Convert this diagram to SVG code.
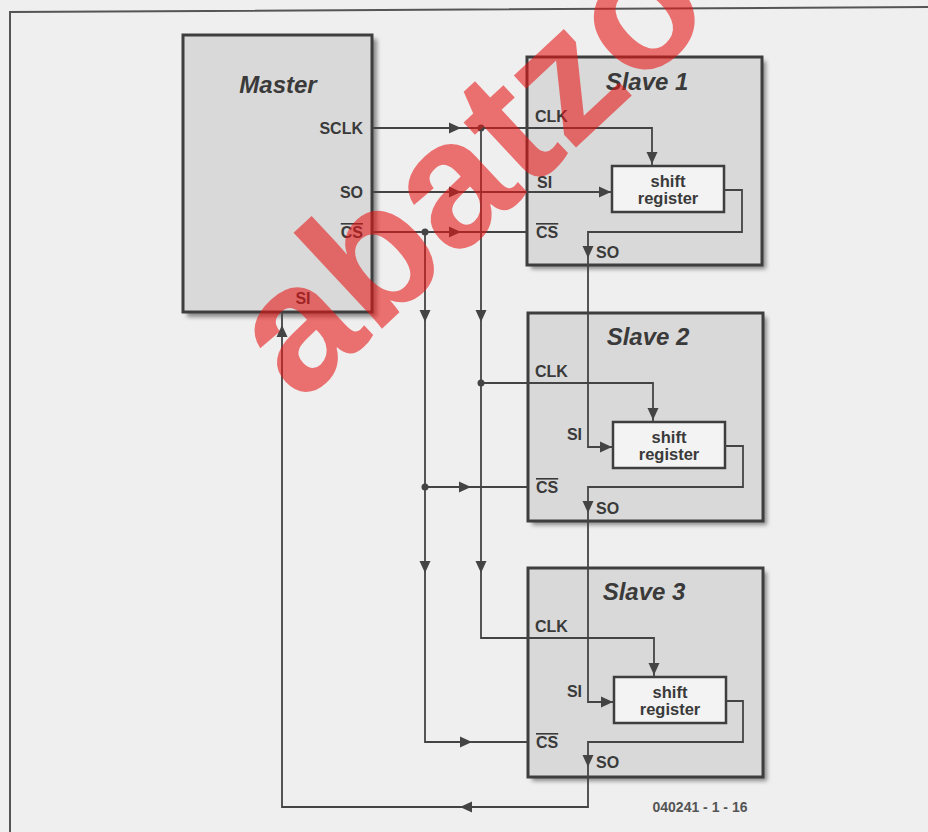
<svg xmlns="http://www.w3.org/2000/svg" xmlns:xlink="http://www.w3.org/1999/xlink" width="928" height="832" viewBox="0 0 928 832">
<defs>
<style>
.bg{fill:#efefef}
.frame{fill:none;stroke:#555;stroke-width:2}
.box{fill:#d9d9d9;stroke:#3e3e3e;stroke-width:3}
.shadow{fill:#8a8a8a;filter:url(#blur)}
.sr{fill:#f3f3f3;stroke:#3e3e3e;stroke-width:2.5}
.wire{fill:none;stroke:#444;stroke-width:1.8}
.dot{fill:#444}
.ah{fill:#444}
.title{font-family:"Liberation Sans",Arial,sans-serif;font-weight:bold;font-style:italic;font-size:24px;fill:#3a3a3a;text-anchor:middle}
.lbl{font-family:"Liberation Sans",Arial,sans-serif;font-weight:bold;font-size:16px;fill:#3a3a3a}
.end{text-anchor:end}
.mid{text-anchor:middle}
.ol{text-decoration:overline}
.srt{font-family:"Liberation Sans",Arial,sans-serif;font-weight:bold;font-size:16.5px;fill:#3a3a3a;text-anchor:middle}
.foot{font-family:"Liberation Sans",Arial,sans-serif;font-weight:bold;font-size:14px;fill:#555;text-anchor:middle}
.wm{font-family:"Liberation Sans",Arial,sans-serif;font-weight:bold;font-size:180px;fill:#e81515;opacity:0.58}
</style>
<filter id="blur" x="-10%" y="-10%" width="120%" height="120%"><feGaussianBlur stdDeviation="2"/></filter>
<path id="ar" d="M0,0 L-12,-5.5 L-12,5.5 Z"/>
</defs>
<rect class="bg" x="0" y="0" width="928" height="832"/>
<path class="frame" d="M10,832 V12 L928,7"/>

<g id="master">
<rect class="shadow" x="187" y="39" width="190" height="278"/>
<rect class="box" x="183" y="35" width="189" height="277"/>
<text class="title" x="278" y="93">Master</text>
<text class="lbl end" x="363" y="134">SCLK</text>
<text class="lbl end" x="363" y="198">SO</text>
<text class="lbl end ol" x="363" y="238">CS</text>
<text class="lbl mid" x="303" y="304">SI</text>
</g>

<g id="slave1">
<rect class="shadow" x="531" y="61" width="235" height="208"/>
<rect class="box" x="527" y="57" width="235" height="208"/>
<text class="title" x="647" y="90">Slave 1</text>
<text class="lbl" x="535" y="122">CLK</text>
<text class="lbl" x="537" y="188">SI</text>
<text class="lbl ol" x="536" y="238">CS</text>
<text class="lbl" x="596" y="258">SO</text>
</g>
<g id="sr1">
<rect class="sr" x="612" y="166" width="112" height="46"/>
<text class="srt" x="668" y="187">shift</text>
<text class="srt" x="668" y="204">register</text>
</g>

<g id="slave2">
<rect class="shadow" x="532" y="317" width="235" height="208"/>
<rect class="box" x="528" y="313" width="235" height="208"/>
<text class="title" x="648" y="345">Slave 2</text>
<text class="lbl" x="535" y="377">CLK</text>
<text class="lbl end" x="582" y="440">SI</text>
<text class="lbl ol" x="536" y="493">CS</text>
<text class="lbl" x="596" y="514">SO</text>
</g>
<g id="sr2">
<rect class="sr" x="613" y="422" width="112" height="46"/>
<text class="srt" x="669" y="443">shift</text>
<text class="srt" x="669" y="460">register</text>
</g>

<g id="slave3">
<rect class="shadow" x="532" y="572" width="235" height="209"/>
<rect class="box" x="528" y="568" width="235" height="209"/>
<text class="title" x="644" y="600">Slave 3</text>
<text class="lbl" x="535" y="632">CLK</text>
<text class="lbl end" x="582" y="697">SI</text>
<text class="lbl ol" x="536" y="748">CS</text>
<text class="lbl" x="596" y="768">SO</text>
</g>
<g id="sr3">
<rect class="sr" x="614" y="677" width="112" height="46"/>
<text class="srt" x="670" y="698">shift</text>
<text class="srt" x="670" y="715">register</text>
</g>

<g id="connectors">
<path class="wire" d="M372,128 H652 V166"/>
<path class="wire" d="M481,128 V638 H654 V677"/>
<path class="wire" d="M481,383 H653 V422"/>
<path class="wire" d="M372,192 H612"/>
<path class="wire" d="M372,232 H527"/>
<path class="wire" d="M425,232 V742 H528"/>
<path class="wire" d="M425,487 H528"/>
<path class="wire" d="M724,190 H742 V232 H588 V447 H613"/>
<path class="wire" d="M725,446 H743 V487 H588 V702 H614"/>
<path class="wire" d="M726,701 H743 V742 H588 V807 H282 V312"/>
<circle class="dot" cx="481" cy="128" r="3.5"/>
<circle class="dot" cx="425" cy="232" r="3.5"/>
<circle class="dot" cx="481" cy="383" r="3.5"/>
<circle class="dot" cx="425" cy="487" r="3.5"/>
<use class="ah" xlink:href="#ar" transform="translate(461,128)"/>
<use class="ah" xlink:href="#ar" transform="translate(461,192)"/>
<use class="ah" xlink:href="#ar" transform="translate(461,232)"/>
<use class="ah" xlink:href="#ar" transform="translate(652,164) rotate(90)"/>
<use class="ah" xlink:href="#ar" transform="translate(611,192)"/>
<use class="ah" xlink:href="#ar" transform="translate(588,258) rotate(90)"/>
<use class="ah" xlink:href="#ar" transform="translate(425,322) rotate(90)"/>
<use class="ah" xlink:href="#ar" transform="translate(481,322) rotate(90)"/>
<use class="ah" xlink:href="#ar" transform="translate(653,420) rotate(90)"/>
<use class="ah" xlink:href="#ar" transform="translate(612,447)"/>
<use class="ah" xlink:href="#ar" transform="translate(588,513) rotate(90)"/>
<use class="ah" xlink:href="#ar" transform="translate(471,487)"/>
<use class="ah" xlink:href="#ar" transform="translate(425,573) rotate(90)"/>
<use class="ah" xlink:href="#ar" transform="translate(481,573) rotate(90)"/>
<use class="ah" xlink:href="#ar" transform="translate(654,675) rotate(90)"/>
<use class="ah" xlink:href="#ar" transform="translate(613,702)"/>
<use class="ah" xlink:href="#ar" transform="translate(588,767) rotate(90)"/>
<use class="ah" xlink:href="#ar" transform="translate(472,742)"/>
<use class="ah" xlink:href="#ar" transform="translate(460,807) rotate(180)"/>
<use class="ah" xlink:href="#ar" transform="translate(282,325) rotate(-90)"/>
</g>

<text class="foot" x="700" y="812">040241 - 1 - 16</text>

<text class="wm" transform="translate(300,405) rotate(-43)">abatzo</text>
</svg>
